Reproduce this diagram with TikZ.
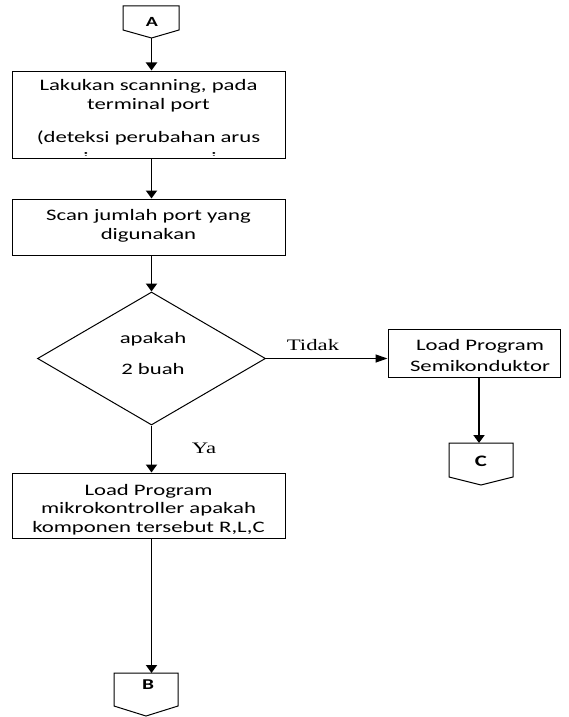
\documentclass[tikz,border=0pt]{standalone}
\usepackage{fontspec}
\setmainfont{Carlito}[FakeStretch=1.42]
\newfontfamily\labelfont{Liberation Serif}[FakeStretch=1.42]
\usetikzlibrary{shapes.geometric,arrows.meta}
\begin{document}
\begin{tikzpicture}[x=1pt,y=-1pt,
  box/.style={draw,line width=1pt,inner sep=0pt,minimum width=273pt},
  decision/.style={draw,diamond,line width=1pt,inner sep=0pt},
  downarrow/.style={draw,line width=1.9pt,-{Triangle[length=8pt,width=11pt]}},
  sidearrow/.style={draw,line width=1.3pt,-{Triangle[length=12pt,width=8pt]}},
  txt/.style={inner sep=0pt,anchor=base,font=\fontsize{16}{19}\selectfont},
  lbl/.style={inner sep=0pt,anchor=base,font=\labelfont\fontsize{16}{19}\selectfont},
  tag/.style={inner sep=0pt,anchor=base,font=\bfseries\fontsize{15}{18}\selectfont},
  offpage/.style={draw,line width=1pt,line join=miter}]

\fill[white] (0,0) rectangle (568,717);
\useasboundingbox (0,0) rectangle (568,717);

% column of the main flow
\coordinate (col) at (151.5,0);

% off-page connector A
\draw[offpage] (123,6) -- (179,6) -- (179,30) -- (151.5,38) -- (123,30) -- cycle;
\coordinate (Atip) at (151.5,38);
\node[tag,font=\bfseries\fontsize{14}{17}\selectfont] (tagA) at (152,26.7) {A};

% process boxes
\node[box,minimum height=87pt] (b1) at (148.5,114.5) {};
\node[box,minimum height=56pt] (b2) at (148.5,227) {};
\node[decision,minimum width=228pt,minimum height=133pt] (dec) at (151.5,358.5) {};
\node[box,minimum width=172pt,minimum height=48pt] (semi) at (474,353) {};
\node[box,minimum height=65pt] (b4) at (148.5,505.5) {};

% texts of the first box; its last line runs past the frame
\node[txt] (t1a) at (148.5,90.7) {Lakukan scanning, pada};
\node[txt] (t1b) at (148.5,109.5) {terminal port};
\node[txt] (t1c) at (148.5,142) {(deteksi perubahan arus};
\begin{scope}
  \clip (12,71) rectangle (285,155);
  \node[txt] (t1d) at (150,163) {i\hspace{122.8pt}i};
\end{scope}

\node[txt] (t2a) at (148.5,220.5) {Scan jumlah port yang};
\node[txt] (t2b) at (148.5,239) {digunakan};

\node[txt] (tda) at (153,343.5) {apakah};
\node[txt] (tdb) at (153,374) {2 buah};

\node[txt] (tsa) at (480,350) {Load Program};
\node[txt] (tsb) at (480,371) {Semikonduktor};

\node[txt] (t4a) at (148.5,495) {Load Program};
\node[txt] (t4b) at (148.5,513.5) {mikrokontroller apakah};
\node[txt] (t4c) at (148.5,532) {komponen tersebut R,L,C};

% off-page connector B
\draw[offpage] (114,673) -- (178,673) -- (178,706) -- (146,716) -- (114,706) -- cycle;
\coordinate (Btop) at (151.5,673);
\node[tag] (tagB) at (148,689) {B};

% off-page connector C
\draw[offpage] (449,443) -- (513,443) -- (513,477) -- (481,485) -- (449,477) -- cycle;
\coordinate (Ctop) at (479,443);
\node[tag,font=\bfseries\fontsize{16}{19}\selectfont] (tagC) at (481,466.7) {C};

% connectors
\draw[downarrow] (Atip) -- (Atip |- b1.north);
\draw[downarrow] (col |- b1.south) -- (col |- b2.north);
\draw[downarrow] (col |- b2.south) -- (dec.north);
\draw[sidearrow] (dec.east) -- (dec.east -| semi.west);
\draw[downarrow] (dec.south) -- (dec.south |- b4.north);
\draw[downarrow] (col |- b4.south) -- (Btop);
\draw[downarrow] (Ctop |- semi.south) -- (Ctop);

% branch labels
\node[lbl] (tidak) at (313,350) {Tidak};
\node[lbl] (ya) at (204,453) {Ya};
\end{tikzpicture}
\end{document}
